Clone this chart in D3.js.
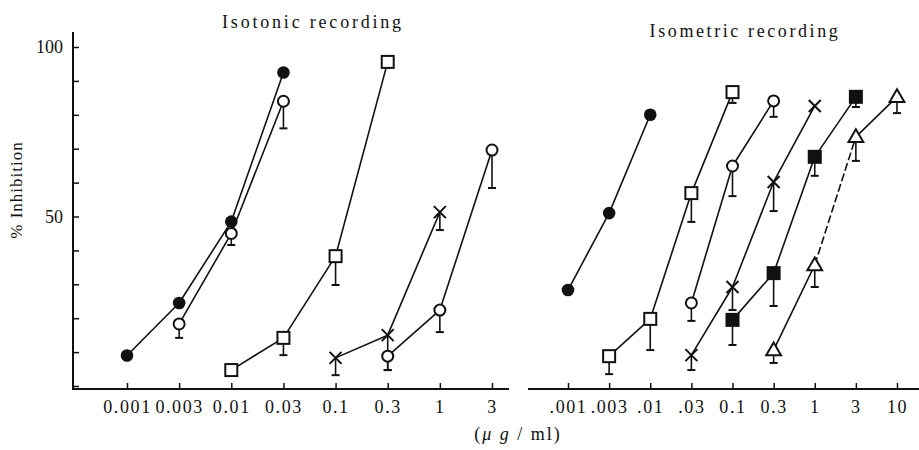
<!DOCTYPE html>
<html>
<head>
<meta charset="utf-8">
<script src="https://cdn.jsdelivr.net/npm/d3@7"></script>
<style>
  body { margin: 0; background: #fff; }
  svg { display: block; }
  text { font-family: "Liberation Serif", "DejaVu Serif", serif; fill: #111; }
  .tick line { stroke: #111; stroke-width: 1.5; }
</style>
</head>
<body>
<div id="chart"></div>
<script>
// dose categories (ug/ml) for each panel
var leftDoses = ['0.001', '0.003', '0.01', '0.03', '0.1', '0.3', '1', '3'];
var rightDoses = ['.001', '.003', '.01', '.03', '0.1', '0.3', '1', '3', '10'];
var yTicks = [0, 10, 20, 30, 40, 50, 60, 70, 80, 90, 100];
var yLabels = [50, 100];

// isotonic recording (left)
var isoDotX = ['0.001', '0.003', '0.01', '0.03'];
var isoDotY = [9, 24.5, 48.5, 92.5];
var isoDotLo = [null, null, null, null];

var isoRingAX = ['0.003', '0.01', '0.03'];
var isoRingAY = [18.3, 45, 84];
var isoRingALo = [14.2, 41.6, 76];

var isoSquareX = ['0.01', '0.03', '0.1', '0.3'];
var isoSquareY = [4.7, 14.2, 38.3, 95.6];
var isoSquareLo = [null, 9.1, 29.8, null];

var isoCrossX = ['0.1', '0.3', '1'];
var isoCrossY = [8.3, 15, 51.3];
var isoCrossLo = [3.2, 4.7, 46];

var isoRingBX = ['0.3', '1', '3'];
var isoRingBY = [8.8, 22.4, 69.6];
var isoRingBLo = [4.7, 15.9, 58.4];

// isometric recording (right)
var imDotX = ['.001', '.003', '.01'];
var imDotY = [28.3, 51, 80];
var imDotLo = [null, null, null];

var imSquareX = ['.003', '.01', '.03', '0.1'];
var imSquareY = [8.8, 19.8, 56.9, 86.7];
var imSquareLo = [3.5, 10.6, 48.4, 83.5];

var imRingX = ['.03', '0.1', '0.3'];
var imRingY = [24.5, 64.9, 84.1];
var imRingLo = [19.2, 56, 79.4];

var imCrossX = ['.03', '0.1', '0.3', '1'];
var imCrossY = [9.1, 29.2, 60.2, 82.6];
var imCrossLo = [4.7, 22.4, 51.6, null];

var imBlockX = ['0.1', '0.3', '1', '3'];
var imBlockY = [19.5, 33.3, 67.6, 85.3];
var imBlockLo = [12.1, 23.6, 62, 82.3];

var imTriX = ['0.3', '1', '3', '10'];
var imTriY = [10.6, 35.7, 73.5, 85.3];
var imTriLo = [6.8, 29.2, 66.4, 80.5];
var imTriDashed = [false, true, false]; // segment 1 -> 3 is broken

var W = 919, H = 450;
var svg = d3.select('#chart').append('svg')
  .attr('width', W)
  .attr('height', H);

// scales
var y = d3.scaleLinear().domain([0, 100]).range([386, 47]);
var xL = d3.scalePoint().domain(leftDoses).range([127, 492]);
var xR = d3.scalePoint().domain(rightDoses).range([568, 897]);
var axisY = 389;

// titles
svg.append('text')
  .attr('x', 313).attr('y', 28)
  .attr('text-anchor', 'middle')
  .style('font-size', '18px')
  .style('letter-spacing', '2.8px')
  .text('Isotonic recording');
svg.append('text')
  .attr('x', 745).attr('y', 37)
  .attr('text-anchor', 'middle')
  .style('font-size', '18px')
  .style('letter-spacing', '2.6px')
  .text('Isometric recording');

// y axis (ticks point inward)
var gy = svg.append('g')
  .attr('transform', 'translate(73,0)')
  .call(d3.axisRight(y).tickValues(yTicks).tickSize(6).tickFormat(''));
gy.select('.domain').remove();
svg.append('line')
  .attr('x1', 73).attr('x2', 73)
  .attr('y1', 32).attr('y2', axisY + 1)
  .attr('stroke', '#111').attr('stroke-width', 2);
svg.selectAll('.ylab')
  .data(yLabels)
  .enter().append('text')
  .attr('class', 'ylab')
  .attr('x', 63)
  .attr('y', function(d) { return y(d); })
  .attr('dy', '0.35em')
  .attr('text-anchor', 'end')
  .style('font-size', '18px')
  .text(function(d) { return d; });

svg.append('text')
  .attr('transform', 'translate(22,190) rotate(-90)')
  .attr('text-anchor', 'middle')
  .style('font-size', '17px')
  .style('letter-spacing', '1px')
  .text('% Inhibition');

// x axes
function xAxis(scale, x0, x1) {
  var g = svg.append('g')
    .attr('transform', 'translate(0,' + axisY + ')')
    .call(d3.axisBottom(scale).tickSizeInner(-6).tickSizeOuter(0).tickPadding(11));
  g.select('.domain').remove();
  g.selectAll('text')
    .style('font-size', '18px')
    .style('letter-spacing', '1.6px')
    .style('font-family', '"Liberation Serif", serif');
  svg.append('line')
    .attr('x1', x0).attr('x2', x1)
    .attr('y1', axisY).attr('y2', axisY)
    .attr('stroke', '#111').attr('stroke-width', 2);
}
xAxis(xL, 73, 509);
xAxis(xR, 528, 919);

var unit = svg.append('text')
  .attr('x', 518).attr('y', 440)
  .attr('text-anchor', 'middle')
  .style('font-size', '18px')
  .style('letter-spacing', '2px');
unit.append('tspan').text('(');
unit.append('tspan').style('font-style', 'italic').text('\u03bc g');
unit.append('tspan').text(' / ml)');

// series table built from the arrays above
var series = [
  { xs: isoDotX, ys: isoDotY, lo: isoDotLo, scale: xL, mark: 'dot' },
  { xs: isoRingAX, ys: isoRingAY, lo: isoRingALo, scale: xL, mark: 'ring' },
  { xs: isoSquareX, ys: isoSquareY, lo: isoSquareLo, scale: xL, mark: 'square' },
  { xs: isoCrossX, ys: isoCrossY, lo: isoCrossLo, scale: xL, mark: 'cross' },
  { xs: isoRingBX, ys: isoRingBY, lo: isoRingBLo, scale: xL, mark: 'ring' },
  { xs: imDotX, ys: imDotY, lo: imDotLo, scale: xR, mark: 'dot' },
  { xs: imSquareX, ys: imSquareY, lo: imSquareLo, scale: xR, mark: 'square' },
  { xs: imRingX, ys: imRingY, lo: imRingLo, scale: xR, mark: 'ring' },
  { xs: imCrossX, ys: imCrossY, lo: imCrossLo, scale: xR, mark: 'cross' },
  { xs: imBlockX, ys: imBlockY, lo: imBlockLo, scale: xR, mark: 'block' },
  { xs: imTriX, ys: imTriY, lo: imTriLo, scale: xR, mark: 'tri', dashed: imTriDashed }
];

series.forEach(function(s) {
  var pts = s.xs.map(function(d, i) {
    return { x: s.scale(d), y: y(s.ys[i]), lo: s.lo[i] };
  });
  var g = svg.append('g');

  // connecting segments
  for (var i = 0; i < pts.length - 1; i++) {
    g.append('line')
      .attr('x1', pts[i].x).attr('y1', pts[i].y)
      .attr('x2', pts[i + 1].x).attr('y2', pts[i + 1].y)
      .attr('stroke', '#111')
      .attr('stroke-width', 1.6)
      .attr('stroke-dasharray', s.dashed && s.dashed[i] ? '8,3' : null);
  }

  // error bars (lower half only)
  pts.forEach(function(p) {
    if (p.lo == null) return;
    var yl = y(p.lo);
    g.append('line')
      .attr('x1', p.x).attr('x2', p.x)
      .attr('y1', p.y).attr('y2', yl)
      .attr('stroke', '#111').attr('stroke-width', 1.6);
    g.append('line')
      .attr('x1', p.x - 4).attr('x2', p.x + 4)
      .attr('y1', yl).attr('y2', yl)
      .attr('stroke', '#111').attr('stroke-width', 2);
  });

  // markers
  pts.forEach(function(p) {
    if (s.mark === 'dot') {
      g.append('circle').attr('cx', p.x).attr('cy', p.y).attr('r', 6.3)
        .attr('fill', '#111');
    } else if (s.mark === 'ring') {
      g.append('circle').attr('cx', p.x).attr('cy', p.y).attr('r', 5.5)
        .attr('fill', '#fff').attr('stroke', '#111').attr('stroke-width', 2);
    } else if (s.mark === 'square' || s.mark === 'block') {
      g.append('rect').attr('x', p.x - 6).attr('y', p.y - 6)
        .attr('width', 12).attr('height', 12)
        .attr('fill', s.mark === 'block' ? '#111' : '#fff')
        .attr('stroke', '#111').attr('stroke-width', 2);
    } else if (s.mark === 'tri') {
      g.append('path')
        .attr('transform', 'translate(' + p.x + ',' + (p.y + 1) + ')')
        .attr('d', d3.symbol().type(d3.symbolTriangle).size(95)())
        .attr('fill', '#fff').attr('stroke', '#111').attr('stroke-width', 2);
    } else if (s.mark === 'cross') {
      g.append('path')
        .attr('transform', 'translate(' + p.x + ',' + p.y + ')')
        .attr('d', 'M-6,-6L6,6M-6,6L6,-6')
        .attr('stroke', '#111').attr('stroke-width', 2);
    }
  });
});
</script>
</body>
</html>
